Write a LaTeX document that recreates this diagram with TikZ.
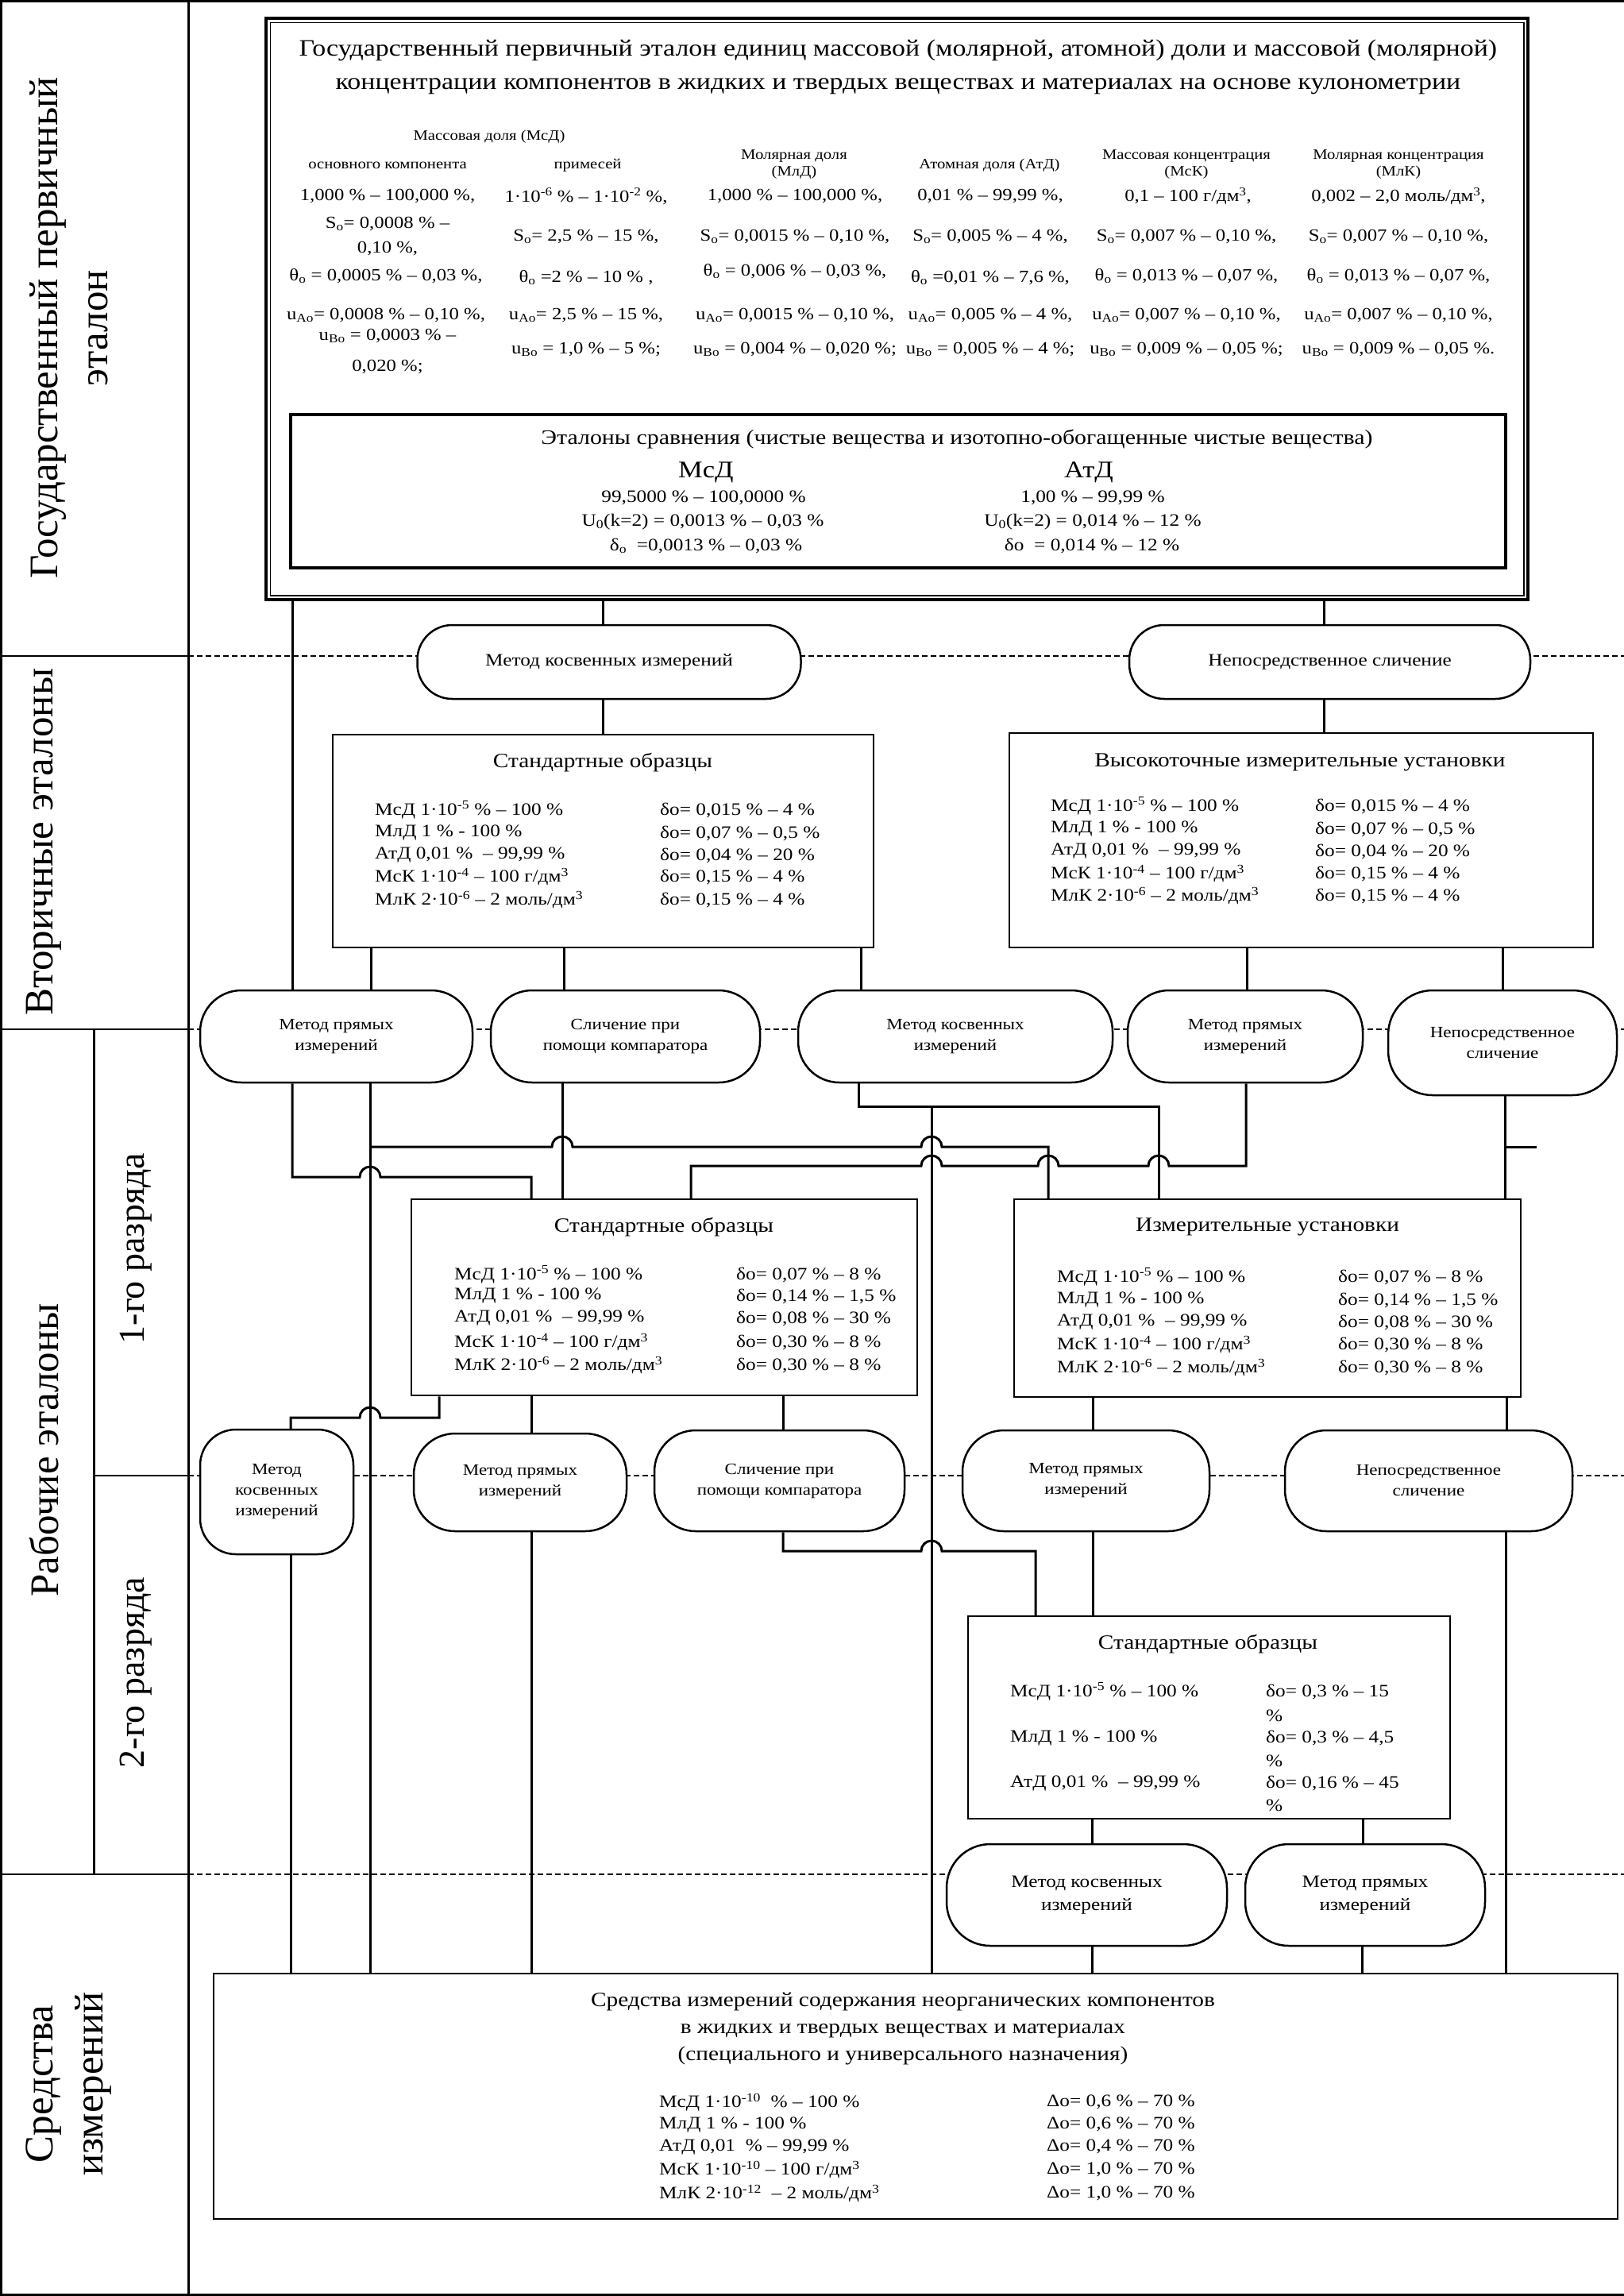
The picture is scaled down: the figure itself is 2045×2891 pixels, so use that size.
\documentclass[tikz,border=0pt]{standalone}
\usepackage{fontspec}
\setmainfont{Liberation Serif}[FakeStretch=1.15]
\newfontfamily\rotfont{Liberation Serif}
\usetikzlibrary{calc}
\newcommand\fzTitle{\fontsize{29.5}{42}\selectfont}
\newcommand\fzHead{\fontsize{18}{21}\selectfont}
\newcommand\fzVal{\fontsize{21.5}{31}\selectfont}
\newcommand\fzEt{\fontsize{26}{30}\selectfont}
\newcommand\fzBig{\fontsize{30}{34}\selectfont}
\newcommand\fzEv{\fontsize{22}{30}\selectfont}
\newcommand\fzRow{\fontsize{22}{28}\selectfont}
\newcommand\fzBT{\fontsize{25.5}{34}\selectfont}
\newcommand\fzOv{\fontsize{20}{26}\selectfont}
\newcommand\fzOvB{\fontsize{22}{29}\selectfont}
\newcommand\fzRot{\rotfont\fontsize{51}{63}\selectfont}
\newcommand\fzRotS{\rotfont\fontsize{46}{55}\selectfont}
\newcommand\lMsD{МсД 1·10\textsuperscript{-5} \% – 100 \%}
\newcommand\lMlD{МлД 1 \% - 100 \%}
\newcommand\lAtD{АтД 0,01 \%\ \ – 99,99 \%}
\newcommand\lMsK{МсК 1·10\textsuperscript{-4} – 100 г/дм\textsuperscript{3}}
\newcommand\lMlK{МлК 2·10\textsuperscript{-6} – 2 моль/дм\textsuperscript{3}}
\newcommand\trow[6]{\node[rowt] (#1l) at (#2,#4) {#5}; \node[rowt] (#1r) at (#3,#4) {#6};}
\newcommand\vv[4]{\node[val] (#1) at (#2,#3) {#4};}
\begin{document}
\begin{tikzpicture}[x=1pt,y=-1pt,
  txt/.style={inner sep=0pt, align=center},
  hd/.style={txt, font=\fzHead},
  val/.style={txt, font=\fzVal},
  ev/.style={txt, font=\fzEv},
  rowt/.style={inner sep=0pt, anchor=west, font=\fzRow},
  bt/.style={txt, font=\fzBT},
  box/.style={draw, line width=2.5pt, fill=white, inner sep=0pt},
  ov/.style={draw, line width=2.5pt, fill=white, inner sep=0pt, align=center, font=\fzOv, rounded corners=#1},
  ov/.default=45pt,
  conn/.style={line width=3pt},
  band/.style={line width=1.5pt, dash pattern=on 7pt off 4pt},
  lab/.style={inner sep=0pt, align=center, rotate=90, font=\fzRot}]
\useasboundingbox (0,0) rectangle (2045,2891);
% frame and left column
\draw[line width=3pt] (2045,1.5) -- (1.5,1.5) -- (1.5,2889) -- (2045,2889);
\draw[line width=3pt] (237,0) -- (237,2891);
\draw[line width=1.5pt] (0,826) -- (237,826);
\draw[line width=1.5pt] (0,1296) -- (237,1296);
\draw[line width=1.5pt] (0,2360) -- (237,2360);
\draw[line width=1.5pt] (118,1858) -- (237,1858);
\draw[line width=3pt] (118,1296) -- (118,2360);
\foreach \yy in {826,1296,1858,2360} \draw[band] (237,\yy) -- (2045,\yy);
\node[lab] (L1) at (87,413) {Государственный первичный\\эталон};
\node[lab] (L2) at (55,1060) {Вторичные эталоны};
\node[lab] (L3) at (55,1826) {Рабочие эталоны};
\node[lab, font=\fzRotS] (L4) at (171,1572) {1-го разряда};
\node[lab, font=\fzRotS] (L5) at (171,2106) {2-го разряда};
\node[lab] (L6) at (87,2624) {Средства\\измерений};
% main box
\node[draw, line width=3.5pt, minimum width=1589pt, minimum height=732pt, inner sep=0pt] (main) at (1129.5,389) {};
\draw[line width=1.5pt] ($(main.north west)+(7,7)$) rectangle ($(main.south east)+(-7,-7)$);
\node[box, line width=4pt, minimum width=1530pt, minimum height=193pt] (ets) at (1131,618.5) {};
% ovals and boxes
\node[ov=44pt, font=\fzOvB, minimum width=483pt, minimum height=93pt] (B1) at (767,833.5) {Метод косвенных измерений};
\node[ov=44pt, font=\fzOvB, minimum width=505pt, minimum height=93pt] (B2) at (1674.5,833.5) {Непосредственное сличение};
\node[box, minimum width=681pt, minimum height=268pt] (sv) at (759.5,1059) {};
\node[box, minimum width=735pt, minimum height=270pt] (vy) at (1638.5,1058) {};
\node[ov=52pt, minimum width=343pt, minimum height=116pt] (A1) at (423.5,1305) {Метод прямых\\измерений};
\node[ov=52pt, minimum width=339pt, minimum height=116pt] (A2) at (787.5,1305) {Сличение при\\помощи компаратора};
\node[ov=52pt, minimum width=396pt, minimum height=116pt] (A3) at (1203,1305) {Метод косвенных\\измерений};
\node[ov=52pt, minimum width=296pt, minimum height=116pt] (A4) at (1568,1305) {Метод прямых\\измерений};
\node[ov=56pt, minimum width=288pt, minimum height=132pt] (A5) at (1892,1313) {Непосредственное\\сличение};
\node[box, minimum width=637pt, minimum height=247pt] (s1) at (836.5,1633.5) {};
\node[box, minimum width=638pt, minimum height=249pt] (iz) at (1596,1634.5) {};
\node[ov=45pt, minimum width=193pt, minimum height=157pt] (C1) at (348.5,1878.5) {Метод\\косвенных\\измерений};
\node[ov=52pt, minimum width=268pt, minimum height=123pt] (C2) at (655,1866.5) {Метод прямых\\измерений};
\node[ov=52pt, minimum width=315pt, minimum height=127pt] (C3) at (981.5,1864.5) {Сличение при\\помощи компаратора};
\node[ov=52pt, minimum width=311pt, minimum height=127pt] (C4) at (1367.5,1864.5) {Метод прямых\\измерений};
\node[ov=52pt, minimum width=362pt, minimum height=127pt] (C5) at (1799,1864.5) {Непосредственное\\сличение};
\node[box, minimum width=607pt, minimum height=255pt] (s2) at (1522.5,2162.5) {};
\node[ov=55pt, font=\fzOvB, minimum width=353pt, minimum height=128pt] (D1) at (1368.5,2386) {Метод косвенных\\измерений};
\node[ov=55pt, font=\fzOvB, minimum width=302pt, minimum height=128pt] (D2) at (1719,2386) {Метод прямых\\измерений};
\node[box, minimum width=1768pt, minimum height=309pt] (bot) at (1153,2639.5) {};
% connectors
\coordinate (j1) at (466,1444);
\coordinate (j2) at (1173,1393);
\coordinate (j3) at (1895,1444);
\coordinate (stub) at (1935,1444);
\draw[conn] (main.south -| 368,0) -- (A1.north -| 368,0);
\draw[conn] (main.south -| 759,0) -- (B1.north -| 759,0);
\draw[conn] (B1.south -| 759,0) -- (sv.north -| 759,0);
\draw[conn] (main.south -| 1667,0) -- (B2.north -| 1667,0);
\draw[conn] (B2.south -| 1667,0) -- (vy.north -| 1667,0);
\draw[conn] (sv.south -| 467,0) -- (A1.north -| 467,0);
\draw[conn] (sv.south -| 710,0) -- (A2.north -| 710,0);
\draw[conn] (sv.south -| 1084,0) -- (A3.north -| 1084,0);
\draw[conn] (vy.south -| 1570,0) -- (A4.north -| 1570,0);
\draw[conn] (vy.south -| 1892,0) -- (A5.north -| 1892,0);
\draw[conn] (A1.south -| 368,0) -- (368,1482) -- (453,1482) arc[start angle=180,end angle=360,radius=13] -- (669,1482) -- (s1.north -| 669,0);
\draw[conn] (A1.south -| 466,0) -- (bot.north -| 466,0);
\draw[conn] (j1) -- (695,1444) arc[start angle=180,end angle=360,radius=13] -- (1160,1444) arc[start angle=180,end angle=360,radius=13] -- (1320,1444) -- (iz.north -| 1320,0);
\draw[conn] (A2.south -| 708,0) -- (s1.north -| 708,0);
\draw[conn] (A3.south -| 1081,0) -- (1081,1393) -- (1459,1393) -- (iz.north -| 1459,0);
\draw[conn] (j2) -- (bot.north -| 1173,0);
\draw[conn] (A4.south -| 1569,0) -- (1569,1468) -- (1472,1468) arc[start angle=0,end angle=-180,radius=13] -- (1333,1468) arc[start angle=0,end angle=-180,radius=13] -- (1186,1468) arc[start angle=0,end angle=-180,radius=13] -- (870,1468) -- (s1.north -| 870,0);
\draw[conn] (A5.south -| 1895,0) -- (iz.north -| 1895,0);
\draw[conn] (j3) -- (stub);
\draw[conn] (s1.south -| 553,0) -- (553,1785) -- (479,1785) arc[start angle=0,end angle=-180,radius=13] -- (366,1785) -- (C1.north -| 366,0);
\draw[conn] (s1.south -| 669,0) -- (C2.north -| 669,0);
\draw[conn] (s1.south -| 986,0) -- (C3.north -| 986,0);
\draw[conn] (iz.south -| 1376,0) -- (C4.north -| 1376,0);
\draw[conn] (iz.south -| 1897,0) -- (C5.north -| 1897,0);
\draw[conn] (C1.south -| 366,0) -- (bot.north -| 366,0);
\draw[conn] (C2.south -| 669,0) -- (bot.north -| 669,0);
\draw[conn] (C3.south -| 986,0) -- (986,1953) -- (1160,1953) arc[start angle=180,end angle=360,radius=13] -- (1304,1953) -- (s2.north -| 1304,0);
\draw[conn] (C4.south -| 1376,0) -- (s2.north -| 1376,0);
\draw[conn] (s2.south -| 1375,0) -- (D1.north -| 1375,0);
\draw[conn] (s2.south -| 1716,0) -- (D2.north -| 1716,0);
\draw[conn] (D1.south -| 1375,0) -- (bot.north -| 1375,0);
\draw[conn] (D2.south -| 1715,0) -- (bot.north -| 1715,0);
\draw[conn] (C5.south -| 1896,0) -- (bot.north -| 1896,0);
% main box texts
\node[txt, font=\fzTitle] (title) at (1131,84) {Государственный первичный эталон единиц массовой (молярной, атомной) доли и массовой (молярной)\\концентрации компонентов в жидких и твердых веществах и материалах на основе кулонометрии};
\node[hd] (h0) at (616,172) {Массовая доля (МсД)};
\node[hd] (h1) at (488,208) {основного компонента};
\node[hd] (h2) at (740,208) {примесей};
\node[hd] (h3) at (1000,207.5) {Молярная доля\\(МлД)};
\node[hd] (h4) at (1246,208) {Атомная доля (АтД)};
\node[hd] (h5) at (1494,207.5) {Массовая концентрация\\(МсК)};
\node[hd] (h6) at (1761,207.5) {Молярная концентрация\\(МлК)};
\vv{a1}{488}{247}{1,000 \% – 100,000 \%,}
\vv{a2}{488}{282}{S\textsubscript{o}= 0,0008 \% –}
\vv{a3}{488}{313}{0,10 \%,}
\vv{a4}{486}{348}{θ\textsubscript{o} = 0,0005 \% – 0,03 \%,}
\vv{a5}{486}{397}{u\textsubscript{Ao}= 0,0008 \% – 0,10 \%,}
\vv{a6}{488}{423}{u\textsubscript{Bo} = 0,0003 \% –}
\vv{a7}{488}{462}{0,020 \%;}
\vv{b1}{738}{247}{1·10\textsuperscript{-6} \% – 1·10\textsuperscript{-2} \%,}
\vv{b2}{738}{298}{S\textsubscript{o}= 2,5 \% – 15 \%,}
\vv{b3}{738}{350}{θ\textsubscript{o} =2 \% – 10 \% ,}
\vv{b4}{738}{397}{u\textsubscript{Ao}= 2,5 \% – 15 \%,}
\vv{b5}{738}{440}{u\textsubscript{Bo} = 1,0 \% – 5 \%;}
\vv{c1}{1001}{247}{1,000 \% – 100,000 \%,}
\vv{c2}{1001}{298}{S\textsubscript{o}= 0,0015 \% – 0,10 \%,}
\vv{c3}{1001}{342}{θ\textsubscript{o} = 0,006 \% – 0,03 \%,}
\vv{c4}{1001}{397}{u\textsubscript{Ao}= 0,0015 \% – 0,10 \%,}
\vv{c5}{1001}{440}{u\textsubscript{Bo} = 0,004 \% – 0,020 \%;}
\vv{d1}{1247}{247}{0,01 \% – 99,99 \%,}
\vv{d2}{1247}{298}{S\textsubscript{o}= 0,005 \% – 4 \%,}
\vv{d3}{1247}{350}{θ\textsubscript{o} =0,01 \% – 7,6 \%,}
\vv{d4}{1247}{397}{u\textsubscript{Ao}= 0,005 \% – 4 \%,}
\vv{d5}{1247}{440}{u\textsubscript{Bo} = 0,005 \% – 4 \%;}
\vv{e1}{1496}{247}{0,1 – 100 г/дм\textsuperscript{3},}
\vv{e2}{1494}{298}{S\textsubscript{o}= 0,007 \% – 0,10 \%,}
\vv{e3}{1494}{348}{θ\textsubscript{o} = 0,013 \% – 0,07 \%,}
\vv{e4}{1494}{397}{u\textsubscript{Ao}= 0,007 \% – 0,10 \%,}
\vv{e5}{1494}{440}{u\textsubscript{Bo} = 0,009 \% – 0,05 \%;}
\vv{f1}{1761}{247}{0,002 – 2,0 моль/дм\textsuperscript{3},}
\vv{f2}{1761}{298}{S\textsubscript{o}= 0,007 \% – 0,10 \%,}
\vv{f3}{1761}{348}{θ\textsubscript{o} = 0,013 \% – 0,07 \%,}
\vv{f4}{1761}{397}{u\textsubscript{Ao}= 0,007 \% – 0,10 \%,}
\vv{f5}{1761}{440}{u\textsubscript{Bo} = 0,009 \% – 0,05 \%.}
% comparison standards
\node[txt, font=\fzEt] (et0) at (1205,553) {Эталоны сравнения (чистые вещества и изотопно-обогащенные чистые вещества)};
\node[txt, font=\fzBig] (et1) at (889,595) {МсД};
\node[txt, font=\fzBig] (et2) at (1371,595) {АтД};
\node[ev] (et3) at (886,627) {99,5000 \% – 100,0000 \%};
\node[ev] (et4) at (885,657) {U\textsubscript{0}(k=2) = 0,0013 \% – 0,03 \%};
\node[ev] (et5) at (889,687) {δ\textsubscript{o}\ \ =0,0013 \% – 0,03 \%};
\node[ev] (et6) at (1376,627) {1,00 \% – 99,99 \%};
\node[ev] (et7) at (1376,657) {U\textsubscript{0}(k=2) = 0,014 \% – 12 \%};
\node[ev] (et8) at (1375,687) {δo\ \ = 0,014 \% – 12 \%};
% secondary boxes
\node[bt] (svt) at (759,960) {Стандартные образцы};
\trow{sva}{472}{831}{1020}{\lMsD}{δо= 0,015 \% – 4 \%}
\trow{svb}{472}{831}{1049}{\lMlD}{δо= 0,07 \% – 0,5 \%}
\trow{svc}{472}{831}{1077}{\lAtD}{δо= 0,04 \% – 20 \%}
\trow{svd}{472}{831}{1104}{\lMsK}{δо= 0,15 \% – 4 \%}
\trow{sve}{472}{831}{1133}{\lMlK}{δо= 0,15 \% – 4 \%}
\node[bt] (vyt) at (1637,960) {Высокоточные измерительные установки};
\trow{vya}{1323}{1656}{1015}{\lMsD}{δо= 0,015 \% – 4 \%}
\trow{vyb}{1323}{1656}{1044}{\lMlD}{δо= 0,07 \% – 0,5 \%}
\trow{vyc}{1323}{1656}{1072}{\lAtD}{δо= 0,04 \% – 20 \%}
\trow{vyd}{1323}{1656}{1100}{\lMsK}{δо= 0,15 \% – 4 \%}
\trow{vye}{1323}{1656}{1128}{\lMlK}{δо= 0,15 \% – 4 \%}
% first rank
\node[bt] (s1t) at (836,1545) {Стандартные образцы};
\trow{s1a}{572}{927}{1605}{\lMsD}{δо= 0,07 \% – 8 \%}
\trow{s1b}{572}{927}{1632}{\lMlD}{δо= 0,14 \% – 1,5 \%}
\trow{s1c}{572}{927}{1660}{\lAtD}{δо= 0,08 \% – 30 \%}
\trow{s1d}{572}{927}{1690}{\lMsK}{δо= 0,30 \% – 8 \%}
\trow{s1e}{572}{927}{1719}{\lMlK}{δо= 0,30 \% – 8 \%}
\node[bt] (izt) at (1596,1545) {Измерительные установки};
\trow{iza}{1331}{1685}{1608}{\lMsD}{δо= 0,07 \% – 8 \%}
\trow{izb}{1331}{1685}{1637}{\lMlD}{δо= 0,14 \% – 1,5 \%}
\trow{izc}{1331}{1685}{1665}{\lAtD}{δо= 0,08 \% – 30 \%}
\trow{izd}{1331}{1685}{1693}{\lMsK}{δо= 0,30 \% – 8 \%}
\trow{ize}{1331}{1685}{1722}{\lMlK}{δо= 0,30 \% – 8 \%}
% second rank
\node[bt] (s2t) at (1521,2070) {Стандартные образцы};
\trow{s2a}{1272}{1594}{2130}{\lMsD}{δо= 0,3 \% – 15}
\node[rowt] (s2ap) at (1594,2160) {\%};
\trow{s2b}{1272}{1594}{2188}{\lMlD}{δо= 0,3 \% – 4,5}
\node[rowt] (s2bp) at (1594,2217) {\%};
\trow{s2c}{1272}{1594}{2245}{\lAtD}{δо= 0,16 \% – 45}
\node[rowt] (s2cp) at (1594,2273) {\%};
% bottom box
\node[bt] (bott) at (1137,2554) {Средства измерений содержания неорганических компонентов\\в жидких и твердых веществах и материалах\\(специального и универсального назначения)};
\trow{bta}{830}{1318}{2647}{МсД 1·10\textsuperscript{-10}\ \ \% – 100 \%}{Δо= 0,6 \% – 70 \%}
\trow{btb}{830}{1318}{2675}{МлД 1 \% - 100 \%}{Δо= 0,6 \% – 70 \%}
\trow{btc}{830}{1318}{2703}{АтД 0,01\ \ \% – 99,99 \%}{Δо= 0,4 \% – 70 \%}
\trow{btd}{830}{1318}{2732}{МсК 1·10\textsuperscript{-10} – 100 г/дм\textsuperscript{3}}{Δо= 1,0 \% – 70 \%}
\trow{bte}{830}{1318}{2762}{МлК 2·10\textsuperscript{-12}\ \ – 2 моль/дм\textsuperscript{3}}{Δо= 1,0 \% – 70 \%}
\end{tikzpicture}
\end{document}
